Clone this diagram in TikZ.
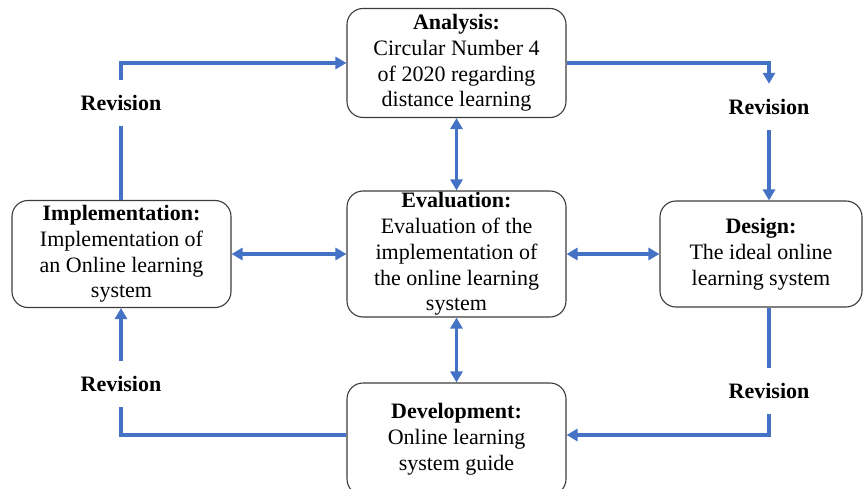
\documentclass[tikz,border=0pt]{standalone}
\usepackage{fontspec}
\setmainfont{Liberation Serif}
\usetikzlibrary{arrows.meta}
\definecolor{flowblue}{RGB}{68,114,196}
\definecolor{boxline}{RGB}{60,60,60}
\tikzset{
  stagebox/.style={draw=boxline, line width=1.1pt, rounded corners=16pt, fill=white,
    align=center, inner sep=0pt, font=\fontsize{22}{25.8}\selectfont},
  revlabel/.style={inner sep=0pt, minimum height=46pt, font=\fontsize{22}{25.8}\selectfont\bfseries},
  flow/.style={draw=flowblue, line width=3.2pt, -{Triangle[length=11pt,width=12pt]}},
  plainflow/.style={draw=flowblue, line width=3.2pt},
  biflow/.style={draw=flowblue, line width=3.2pt, {Triangle[length=11pt,width=12pt]}-{Triangle[length=11pt,width=12pt]}}
}
\begin{document}
\begin{tikzpicture}[x=1pt,y=-1pt]
\useasboundingbox (0,0) rectangle (864,489);
% boxes
\node[stagebox, minimum width=219pt, minimum height=109pt] (ana) at (456.5,63)
  {\textbf{Analysis:}\\Circular Number 4\\of 2020 regarding\\distance learning};
\node[stagebox, minimum width=219pt, minimum height=126pt] (eva) at (456.5,254)
  {\textbf{Evaluation:}\\Evaluation of the\\implementation of\\the online learning\\system};
\node[stagebox, minimum width=219pt, minimum height=112pt] (dev) at (456.5,439)
  {\textbf{Development:}\\Online learning\\system guide};
\node[stagebox, minimum width=219pt, minimum height=107pt] (imp) at (121.5,254)
  {\textbf{Implementation:}\\Implementation of\\an Online learning\\system};
\node[stagebox, minimum width=202pt, minimum height=106pt] (des) at (761,254)
  {\textbf{Design:}\\The ideal online\\learning system};
% revision labels
\node[revlabel] (rv1) at (121,103) {Revision};
\node[revlabel] (rv2) at (769,107) {Revision};
\node[revlabel] (rv3) at (769,391) {Revision};
\node[revlabel] (rv4) at (121,384) {Revision};
% cycle connectors
\draw[plainflow] (imp.north -| rv1) -- (rv1.south);
\draw[flow] (rv1.north) |- (ana.west);
\draw[flow] (ana.east) -| (rv2.north);
\draw[flow] (rv2.south) -- (des.north -| rv2);
\draw[plainflow] (des.south -| rv3) -- (rv3.north);
\draw[flow] (rv3.south) |- ([yshift=4pt]dev.east);
\draw[plainflow] ([yshift=4pt]dev.west) -| (rv4.south);
\draw[flow] (rv4.north) -- (imp.south -| rv4);
% two-way connectors
\draw[biflow] (imp.east) -- (eva.west);
\draw[biflow] (eva.east) -- (des.west);
\draw[biflow] (ana.south) -- (eva.north);
\draw[biflow] (eva.south) -- (dev.north);
\end{tikzpicture}
\end{document}
